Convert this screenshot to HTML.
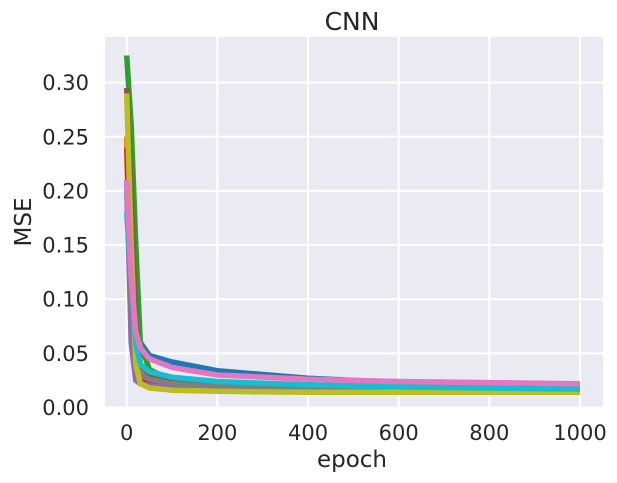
<!DOCTYPE html>
<html><head><meta charset="utf-8"><style>
html,body{margin:0;padding:0;background:#fff;}
svg{display:block;font-family:"DejaVu Sans","Liberation Sans",sans-serif;}
</style></head><body>
<svg id="chart" width="617" height="483">
<rect x="105" y="37" width="498" height="370" fill="#eaeaf2"/>
<g id="grid"></g>
<g id="series"></g>
<g id="ticks"></g>
<text x="352" y="30" text-anchor="middle" font-size="25" fill="#262626">CNN</text>
<text x="352" y="467" text-anchor="middle" font-size="23" fill="#262626">epoch</text>
<text transform="translate(31,222) rotate(-90)" text-anchor="middle" font-size="23" fill="#262626">MSE</text>
</svg>
<script>
const xTicks = [0,200,400,600,800,1000];
const yTicks = [0.00,0.05,0.10,0.15,0.20,0.25,0.30];
const yTickLabels = ["0.00","0.05","0.10","0.15","0.20","0.25","0.30"];
const epochs = [0,10,20,30,50,100,200,400,600,800,1000];
const blueVals   = [0.25,0.15,0.09,0.06,0.048,0.042,0.034,0.027,0.023,0.021,0.019];
const orangeVals = [0.25,0.12,0.05,0.035,0.028,0.022,0.019,0.017,0.016,0.015,0.015];
const greenVals  = [0.325,0.26,0.15,0.06,0.035,0.025,0.02,0.018,0.017,0.016,0.016];
const redVals    = [0.24,0.10,0.04,0.028,0.024,0.02,0.018,0.016,0.015,0.015,0.014];
const purpleVals = [0.21,0.06,0.025,0.022,0.02,0.018,0.017,0.016,0.015,0.015,0.015];
const brownVals  = [0.295,0.2,0.08,0.04,0.03,0.024,0.02,0.018,0.017,0.016,0.016];
const grayVals   = [0.2,0.09,0.04,0.03,0.026,0.022,0.019,0.017,0.016,0.015,0.015];
const oliveVals  = [0.29,0.15,0.04,0.022,0.018,0.016,0.015,0.014,0.014,0.014,0.014];
const cyanVals   = [0.18,0.12,0.06,0.04,0.033,0.028,0.024,0.021,0.019,0.018,0.017];
const pinkVals   = [0.21,0.12,0.07,0.055,0.045,0.037,0.03,0.026,0.024,0.023,0.022];
const seriesNames = ["blue","orange","green","red","purple","brown","gray","olive","cyan","pink"];
const seriesColors = ["#1f77b4","#ff7f0e","#2ca02c","#d62728","#9467bd","#8c564b","#7f7f7f","#bcbd22","#17becf","#e377c2"];
const seriesVals = [blueVals,orangeVals,greenVals,redVals,purpleVals,brownVals,grayVals,oliveVals,cyanVals,pinkVals];

const NS="http://www.w3.org/2000/svg";
const X0=126.7, XS=0.4533, Y0=407.5, YS=1083;
function xs(v){return X0+v*XS;}
function ys(v){return Y0-v*YS;}
function mk(tag,parent){const e=document.createElementNS(NS,tag);document.getElementById(parent).appendChild(e);return e;}

xTicks.forEach(t=>{
  const l=mk("line","grid");
  
  
  l.setAttribute("x1",xs(t));l.setAttribute("x2",xs(t));l.setAttribute("y1",37);l.setAttribute("y2",407);
  l.setAttribute("stroke","#fff");l.setAttribute("stroke-width","2");
  const tx=mk("text","ticks");
  
  
  tx.setAttribute("x",xs(t));tx.setAttribute("y",440);tx.setAttribute("text-anchor","middle");
  tx.setAttribute("font-size","21");tx.setAttribute("fill","#262626");tx.textContent=t;
});
yTicks.forEach((t,i)=>{
  const l=mk("line","grid");
  
  
  l.setAttribute("x1",105);l.setAttribute("x2",603);l.setAttribute("y1",ys(t));l.setAttribute("y2",ys(t));
  l.setAttribute("stroke","#fff");l.setAttribute("stroke-width","2");
  const tx=mk("text","ticks");
  
  
  tx.setAttribute("x",89);tx.setAttribute("y",ys(t)+7.5);tx.setAttribute("text-anchor","end");
  tx.setAttribute("font-size","21");tx.setAttribute("fill","#262626");tx.textContent=yTickLabels[i];
});
seriesVals.forEach((vals,si)=>{
  const p=mk("polyline","series");
  
  
  p.setAttribute("points",vals.map((v,i)=>xs(epochs[i]).toFixed(1)+","+ys(v).toFixed(1)).join(" "));
  p.setAttribute("fill","none");p.setAttribute("stroke",seriesColors[si]);
  p.setAttribute("stroke-width","5.5");p.setAttribute("stroke-linejoin","round");
});
</script>
</body></html>
